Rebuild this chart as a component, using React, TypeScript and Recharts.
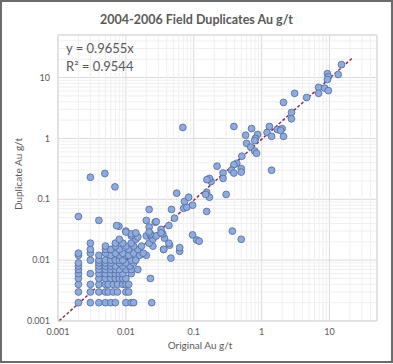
import { ScatterChart, Scatter, XAxis, YAxis, CartesianGrid, ReferenceLine } from 'recharts';

// [original, duplicate] Au g/t
const lowGrade: [number, number][] = [
  [0.002, 0.002], [0.003, 0.002], [0.004, 0.002], [0.005, 0.002], [0.006, 0.002], [0.007, 0.002], [0.01, 0.002], [0.012, 0.002], [0.013, 0.002], [0.024, 0.002],
  [0.002, 0.003], [0.003, 0.003], [0.004, 0.003], [0.005, 0.003], [0.0055, 0.003], [0.0065, 0.003], [0.0075, 0.003], [0.01, 0.003], [0.011, 0.003],
  [0.002, 0.004], [0.003, 0.004], [0.004, 0.004], [0.005, 0.004], [0.0055, 0.004], [0.0065, 0.004], [0.0075, 0.004], [0.009, 0.004], [0.01, 0.004], [0.011, 0.004],
  [0.002, 0.005], [0.004, 0.005], [0.005, 0.005], [0.006, 0.005], [0.007, 0.005], [0.008, 0.005], [0.009, 0.005], [0.01, 0.005], [0.023, 0.005],
  [0.002, 0.006], [0.003, 0.006], [0.004, 0.006], [0.005, 0.006], [0.006, 0.006], [0.007, 0.006], [0.008, 0.006], [0.009, 0.006], [0.012, 0.006],
  [0.002, 0.007], [0.004, 0.007], [0.005, 0.007], [0.006, 0.007], [0.007, 0.007], [0.008, 0.007], [0.01, 0.007], [0.012, 0.007], [0.015, 0.007],
  [0.002, 0.008], [0.004, 0.008], [0.005, 0.008], [0.006, 0.008], [0.007, 0.008], [0.009, 0.008], [0.0115, 0.008],
  [0.002, 0.009], [0.004, 0.009], [0.005, 0.009], [0.006, 0.009], [0.008, 0.009], [0.01, 0.009], [0.013, 0.009],
  [0.003, 0.01], [0.004, 0.01], [0.005, 0.01], [0.006, 0.01], [0.007, 0.01], [0.008, 0.01], [0.009, 0.01], [0.012, 0.01], [0.014, 0.01], [0.046, 0.0108],
  [0.002, 0.012], [0.004, 0.012], [0.006, 0.012], [0.008, 0.012], [0.01, 0.012], [0.011, 0.012], [0.016, 0.012], [0.02, 0.012],
  [0.002, 0.013], [0.003, 0.013], [0.005, 0.013], [0.007, 0.013], [0.009, 0.013], [0.013, 0.013], [0.018, 0.013],
  [0.003, 0.015], [0.005, 0.015], [0.006, 0.015], [0.008, 0.015], [0.011, 0.015], [0.015, 0.015], [0.036, 0.015],
  [0.005, 0.017], [0.007, 0.017], [0.01, 0.017], [0.013, 0.017], [0.017, 0.017], [0.025, 0.017], [0.044, 0.0176],
  [0.003, 0.019], [0.007, 0.019], [0.009, 0.019], [0.012, 0.019], [0.022, 0.019], [0.043, 0.019],
  [0.008, 0.022], [0.014, 0.022], [0.025, 0.022], [0.037, 0.023], [0.11, 0.0215],
  [0.012, 0.025], [0.015, 0.024], [0.02, 0.025], [0.023, 0.026], [0.028, 0.025],
];

const midGrade: [number, number][] = [
  [0.01, 0.03], [0.012, 0.027], [0.014, 0.028], [0.022, 0.035], [0.023, 0.027], [0.033, 0.032], [0.035, 0.027],
  [0.01, 0.029], [0.022, 0.029], [0.033, 0.028], [0.0079, 0.036], [0.02, 0.045], [0.027, 0.042], [0.028, 0.043],
  [0.043, 0.037], [0.052, 0.049], [0.004, 0.045], [0.002, 0.052], [0.022, 0.068], [0.047, 0.068], [0.071, 0.071],
  [0.079, 0.074], [0.096, 0.08], [0.073, 0.092], [0.084, 0.108], [0.056, 0.126], [0.155, 0.13], [0.17, 0.108],
  [0.15, 0.12], [0.3, 0.12], [0.155, 0.063], [0.37, 0.03], [0.5, 0.022], [0.12, 0.0205], [0.096, 0.026],
  [0.062, 0.014], [0.036, 0.015], [0.062, 0.016], [0.18, 0.196], [0.17, 0.22], [0.156, 0.21], [0.22, 0.35],
  [0.27, 0.27], [0.27, 0.22], [0.003, 0.23], [0.0049, 0.265], [0.0069, 0.16], [0.069, 1.51], [0.0073, 0.037],
];

const highGrade: [number, number][] = [
  [15, 16.3], [9.3, 11.6], [9.6, 10.3], [13.4, 11.2], [9.3, 9.3], [6.9, 6.9], [6.9, 5.5], [8.5, 6.7], [9.6, 6.1],
  [4.6, 4.7], [3.06, 5.5], [2.1, 3.9], [2.75, 2.67], [2.75, 2.1], [1.3, 1.57], [1.7, 1.4], [2.0, 1.45], [1.9, 1.35],
  [1.2, 1.25], [1.4, 1.08], [2.1, 1.08], [0.71, 1.45], [0.39, 1.57], [0.58, 1.13], [0.87, 1.16], [0.81, 1.0],
  [0.79, 0.92], [0.6, 0.83], [0.69, 0.72], [0.79, 0.62], [0.84, 0.57], [0.51, 0.51], [0.43, 0.39], [0.39, 0.37],
  [0.5, 0.32], [0.36, 0.3], [0.5, 0.28], [0.39, 0.27], [1.4, 0.3],
];

const xTicks = [0.001, 0.01, 0.1, 1, 10];
const yTicks = [0.001, 0.01, 0.1, 1, 10];
const axisMax = 50;
const minorTicks = [0.001, 0.01, 0.1, 1, 10].flatMap((d) => [2, 3, 4, 5, 6, 7, 8, 9].map((m) => m * d)).filter((v) => v < axisMax);

const slope = 0.9655;
const trendRange = [0.00104, 22];

const points = [...lowGrade, ...midGrade, ...highGrade].map(([x, y]) => ({ x, y }));

const font = 'Lato, "Open Sans", sans-serif';
const grey = '#595959';

const Dot = (props: any) => (
  <circle cx={props.cx} cy={props.cy} r={3.4} fill="#8FAADC" stroke="#4F6A9E" strokeWidth={0.8} />
);

export default function App() {
  return (
    <div style={{ position: 'absolute', left: 0, top: 0, width: 393, height: 364, background: '#fff', fontFamily: font }}>
      <ScatterChart width={393} height={364} margin={{ top: 35, right: 16, bottom: 0, left: 0 }}>
        {minorTicks.map((v) => (
          <ReferenceLine key={`mx${v}`} x={v} stroke="#efefef" />
        ))}
        {minorTicks.map((v) => (
          <ReferenceLine key={`my${v}`} y={v} stroke="#efefef" />
        ))}
        <CartesianGrid stroke="#d9d9d9" />
        <ReferenceLine x={axisMax} stroke="#d9d9d9" />
        <ReferenceLine y={axisMax} stroke="#d9d9d9" />
        <XAxis
          type="number"
          dataKey="x"
          scale="log"
          domain={[0.001, axisMax]}
          ticks={xTicks}
          allowDataOverflow
          height={43}
          tickLine={false}
          axisLine={{ stroke: '#d9d9d9' }}
          tick={{ fontSize: 9, fill: grey, fontFamily: font }}
        />
        <YAxis
          type="number"
          dataKey="y"
          scale="log"
          domain={[0.001, axisMax]}
          ticks={yTicks}
          allowDataOverflow
          width={58}
          tickLine={false}
          axisLine={{ stroke: '#d9d9d9' }}
          tick={{ fontSize: 9, fill: grey, fontFamily: font }}
        />
        <Scatter data={points} shape={Dot} isAnimationActive={false} />
        <ReferenceLine
          segment={[
            { x: trendRange[0], y: trendRange[0] * slope },
            { x: trendRange[1], y: trendRange[1] * slope },
          ]}
          stroke="#8E2A55"
          strokeWidth={1.5}
          strokeDasharray="3 2"
          ifOverflow="visible"
        />
      </ScatterChart>
      <div style={{ position: 'absolute', left: 0, top: 12, width: 393, textAlign: 'center', fontSize: 12.5, fontWeight: 700, color: grey }}>
        2004-2006 Field Duplicates Au g/t
      </div>
      <div style={{ position: 'absolute', left: 66, top: 39, fontSize: 13, color: grey, lineHeight: '18px' }}>
        <div>y = 0.9655x</div>
        <div>R² = 0.9544</div>
      </div>
      <div style={{ position: 'absolute', left: 100, top: 339, width: 200, textAlign: 'center', fontSize: 10, color: grey }}>
        Original Au g/t
      </div>
      <div
        style={{
          position: 'absolute',
          left: 18 - 60,
          top: 175 - 7,
          width: 120,
          textAlign: 'center',
          fontSize: 10,
          color: grey,
          transform: 'rotate(-90deg)',
        }}
      >
        Duplicate Au g/t
      </div>
      <div style={{ position: 'absolute', left: 0, top: 0, width: 393, height: 363, boxSizing: 'border-box', border: '2px solid #6b6b6b', pointerEvents: 'none' }} />
    </div>
  );
}
